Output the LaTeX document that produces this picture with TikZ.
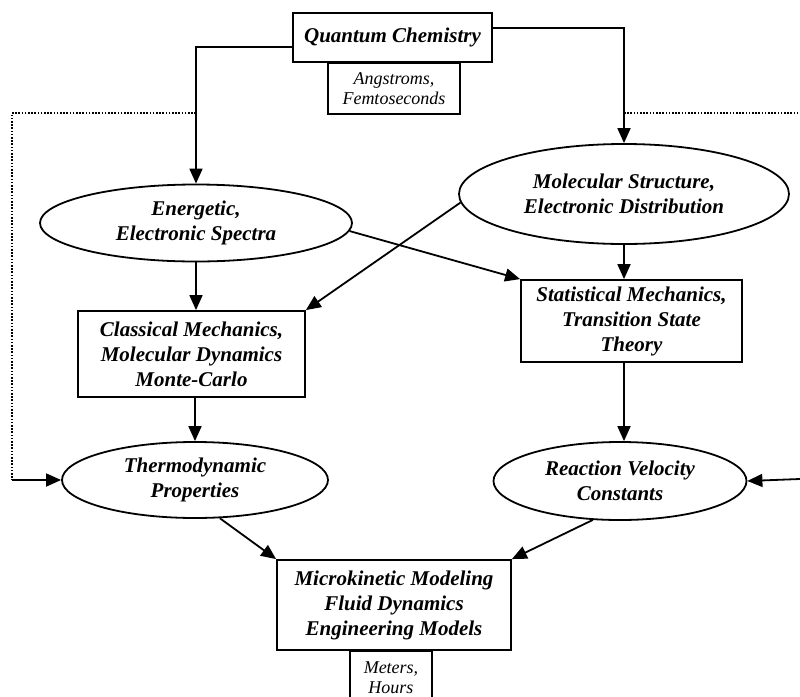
\documentclass[tikz,border=0pt]{standalone}
\usepackage{fontspec}
\setmainfont{Liberation Serif}
\usetikzlibrary{shapes.geometric,arrows.meta}
\begin{document}
\begin{tikzpicture}[x=0.5pt,y=-0.5pt,
  line width=0.9pt,
  txt/.style={align=center,font=\fontsize{10.5}{12.5}\selectfont\bfseries\itshape},
  unitbox/.style={draw,rectangle,inner sep=0pt,align=center,
    font=\fontsize{9}{10}\selectfont\itshape},
  boxnode/.style={draw,rectangle,inner sep=0pt,txt},
  ovalnode/.style={draw,ellipse,inner sep=0pt,txt},
  arr/.style={-{Triangle[length=7.5pt,width=6.5pt]}},
  feedback/.style={line width=0.8pt,dash pattern=on 0.8pt off 0.8pt}]
\clip (0,0) rectangle (800,697);
\fill[white] (0,0) rectangle (800,697);

% top level
\node[boxnode,minimum width=99.5pt,minimum height=24.5pt] (qc) at (392.5,37.5) {Quantum Chemistry};
\node[unitbox,minimum width=66pt,minimum height=25.5pt,anchor=north] (ang) at (394,62) {Angstroms,\\Femtoseconds};

% second level
\node[ovalnode,minimum width=156pt,minimum height=38.5pt] (en) at (196,223) {Energetic,\\Electronic Spectra};
\node[ovalnode,minimum width=165pt,minimum height=50pt] (ms) at (624,194) {Molecular Structure,\\Electronic Distribution};

% third level
\node[boxnode,minimum width=113.5pt,minimum height=43pt] (cm) at (191.5,354) {Classical Mechanics,\\Molecular Dynamics\\Monte-Carlo};
\node[boxnode,minimum width=110.5pt,minimum height=41pt] (sm) at (631.5,321) {Statistical Mechanics,\\Transition State\\Theory};

% fourth level
\node[ovalnode,minimum width=133pt,minimum height=38pt] (th) at (195,480) {Thermodynamic\\Properties};
\node[ovalnode,minimum width=126.5pt,minimum height=39pt] (rv) at (620,481) {Reaction Velocity\\Constants};

% bottom
\node[boxnode,minimum width=117pt,minimum height=45pt] (mm) at (394,605) {Microkinetic Modeling\\Fluid Dynamics\\Engineering Models};
\node[unitbox,minimum width=41pt,minimum height=27pt,anchor=north] (mh) at (391,650) {Meters,\\Hours};

% connectors from quantum chemistry
\draw[arr] (qc.west |- 0,47) -| (en.north);
\draw[arr] (qc.east |- 0,28) -| (ms.north);

% dotted feedback paths
\coordinate (lj) at (en.north |- 0,113);
\coordinate (lt) at (12,113);
\coordinate (lb) at (12,480);
\draw[feedback] (lj) -- (lt) -- (lb);
\draw[arr] (lb) -- (th.west);
\coordinate (rj) at (ms.north |- 0,113);
\coordinate (rt) at (800,113);
\draw[feedback] (rj) -- (rt);
\coordinate (rin) at (800,479);
\draw[arr] (rin) -- (rv.east);

% inner connectors
\draw[arr] (en.-3) -- (sm.north west);
\draw[arr] (en.south) -- (en.south |- cm.north);
\draw[arr] (ms.183) -- (cm.north east);
\draw[arr] (ms.south) -- (ms.south |- sm.north);
\draw[arr] (th.north |- cm.south) -- (th.north);
\draw[arr] (ms.south |- sm.south) -- (ms.south |- rv.north);
\draw[arr] (th.-57) -- (mm.north west);
\draw[arr] (rv.-125.5) -- (mm.north east);
\end{tikzpicture}
\end{document}
